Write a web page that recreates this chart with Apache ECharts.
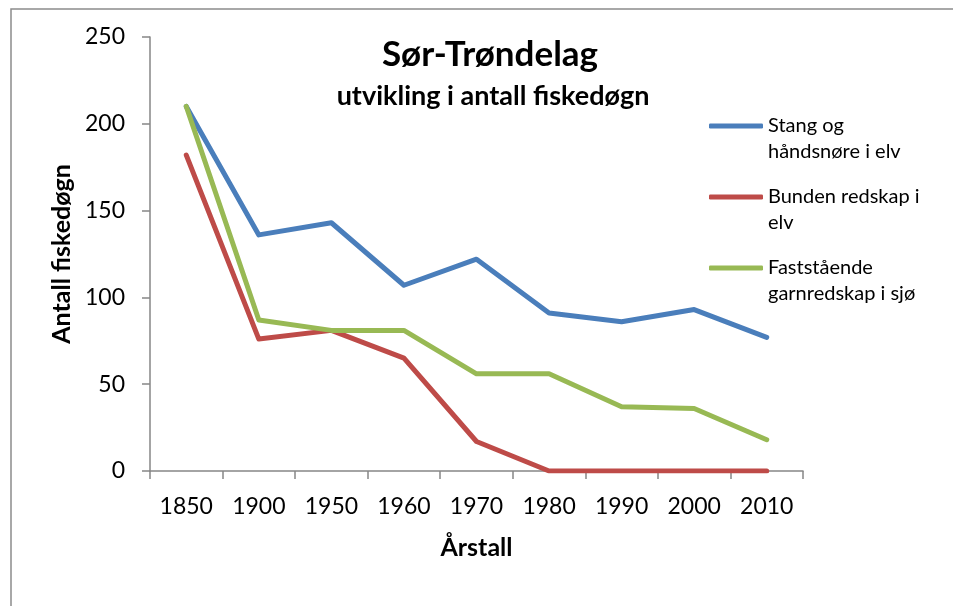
<!DOCTYPE html>
<html><head><meta charset="utf-8">
<script src="https://cdn.jsdelivr.net/npm/echarts@6/dist/echarts.min.js"></script>
<style>html,body{margin:0;padding:0;background:#fff}#c{width:953px;height:606px}</style>
</head><body><div id="c"></div>
<script>
var years = ['1850','1900','1950','1960','1970','1980','1990','2000','2010'];
var stang = [210, 136, 143, 107, 122, 91, 86, 93, 77];
var bunden = [182, 76, 81, 65, 17, 0, 0, 0, 0];
var fast = [210, 87, 81, 81, 56, 56, 37, 36, 18];
var names = ['Stang og håndsnøre i elv', 'Bunden redskap i elv', 'Faststående garnredskap i sjø'];
var legendLabels = ['Stang og\nhåndsnøre i elv', 'Bunden redskap i\nelv', 'Faststående\ngarnredskap i sjø'];
var colors = ['#4A7EBB', '#BE4B48', '#98B954'];
var F = 'Lato, "Open Sans", sans-serif';
var chart = echarts.init(document.getElementById('c'), null, {renderer:'canvas'});
function leg(i, iconY){
  return {data:[names[i]], left:709, top:iconY - 39, orient:'vertical', padding:0,
    icon:'roundRect', itemWidth:54, itemHeight:5, itemGap:0,
    formatter:function(){return ' \n' + legendLabels[i];},
    textStyle:{fontFamily:F, fontSize:20, color:'#000', lineHeight:26}};
}
chart.setOption({
  animation:false,
  backgroundColor:'#fff',
  graphic:[{type:'rect', shape:{x:11, y:9, width:1000, height:700}, style:{fill:null, stroke:'#8c8c8c', lineWidth:1.5}, silent:true}],
  title:[{text:'Sør-Trøndelag', left:485, top:32, textAlign:'center', textStyle:{fontFamily:F, fontSize:35, lineHeight:35, fontWeight:'bold', color:'#000'}},
         {text:'utvikling i antall fiskedøgn', left:488, top:78, textAlign:'center', textStyle:{fontFamily:F, fontSize:27, lineHeight:27, fontWeight:'bold', color:'#000'}}],
  legend:[leg(0,126), leg(1,197), leg(2,268)],
  grid:{left:150, right:150, top:37, bottom:135},
  xAxis:{type:'category', data:years, boundaryGap:true,
    name:'Årstall', nameLocation:'middle', nameGap:64,
    nameTextStyle:{fontFamily:F, fontSize:25, fontWeight:'bold', color:'#000'},
    axisLine:{lineStyle:{color:'#868686', width:1.5}},
    axisTick:{show:true, length:8, lineStyle:{color:'#868686', width:1.5}},
    axisLabel:{fontFamily:F, fontSize:23, color:'#000', margin:24}},
  yAxis:{type:'value', min:0, max:250, interval:50,
    name:'Antall fiskedøgn', nameLocation:'middle', nameGap:75, nameRotate:90,
    nameTextStyle:{fontFamily:F, fontSize:25, fontWeight:'bold', color:'#000'},
    axisLine:{show:true, lineStyle:{color:'#868686', width:1.5}},
    axisTick:{show:true, length:8, lineStyle:{color:'#868686', width:1.5}},
    splitLine:{show:false},
    axisLabel:{fontFamily:F, fontSize:23, color:'#000', margin:25}},
  series:[
    {name:names[0], type:'line', data:stang, symbol:'none', lineStyle:{width:5, color:colors[0], cap:'round', join:'round'}, itemStyle:{color:colors[0]}},
    {name:names[1], type:'line', data:bunden, symbol:'none', lineStyle:{width:5, color:colors[1], cap:'round', join:'round'}, itemStyle:{color:colors[1]}},
    {name:names[2], type:'line', data:fast, symbol:'none', lineStyle:{width:5, color:colors[2], cap:'round', join:'round'}, itemStyle:{color:colors[2]}}
  ]
});
</script></body></html>
